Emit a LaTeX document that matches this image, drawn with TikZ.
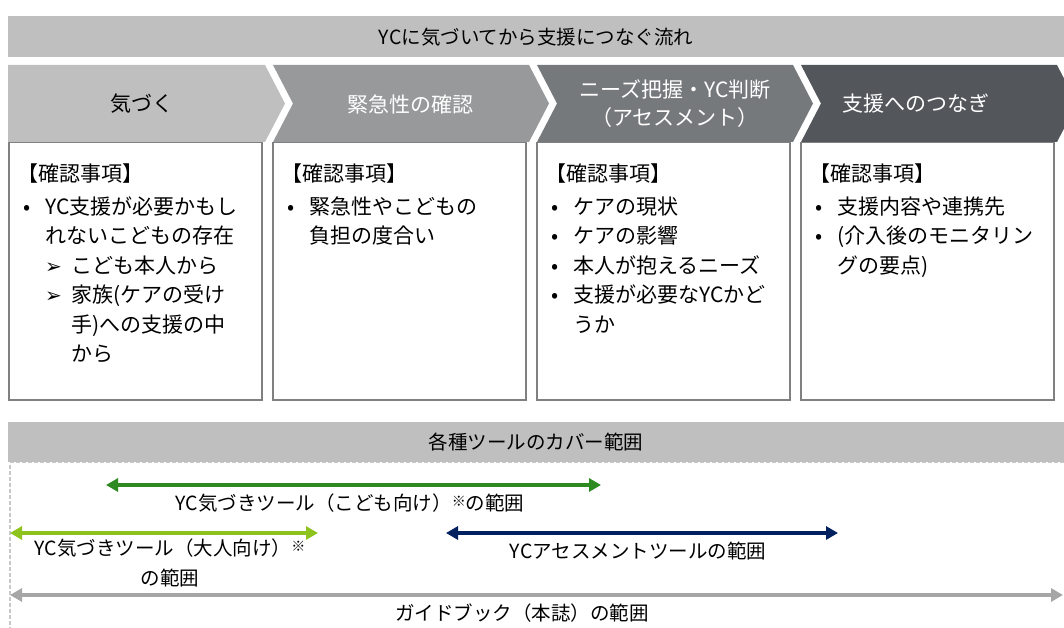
\documentclass[tikz,border=0pt]{standalone}
\usepackage{fontspec}
\setmainfont{Noto Sans CJK JP}
\newfontfamily\symfont{DejaVu Sans}
\definecolor{bargray}{HTML}{BFBFBF}
\definecolor{stepone}{HTML}{BFBFBF}
\definecolor{steptwo}{HTML}{98999B}
\definecolor{stepthree}{HTML}{76797C}
\definecolor{stepfour}{HTML}{53565A}
\definecolor{framegray}{HTML}{808080}
\definecolor{kidgreen}{HTML}{2E8B22}
\definecolor{adultgreen}{HTML}{8DC21F}
\definecolor{assessnavy}{HTML}{002060}
\definecolor{guidegray}{HTML}{A6A6A6}
\definecolor{dashgray}{HTML}{C8C8C8}
\usetikzlibrary{arrows.meta, positioning}

% list helpers
\newcommand{\itm}[1]{\makebox[28pt][l]{\hspace{6pt}\textbullet}#1}
\newcommand{\cont}[1]{\hspace*{28pt}#1}
\newcommand{\subitm}[1]{\hspace*{28pt}\makebox[26pt][l]{\symfont\fontsize{20}{20}\selectfont ➢}#1}
\newcommand{\subcont}[1]{\hspace*{54pt}#1}
\newcommand{\kome}{\raisebox{4pt}{\fontsize{14}{14}\selectfont ※}}

\begin{document}
\begin{tikzpicture}[x=1pt, y=-1pt,
  bar/.style={fill=bargray, inner sep=0pt, anchor=north west, font=\fontsize{19.5}{19.5}\selectfont},
  infobox/.style={draw=framegray, line width=1.5pt, fill=white, inner sep=0pt, anchor=north west,
    minimum width=253pt, minimum height=257pt},
  itemtext/.style={inner sep=0pt, anchor=north west, align=left, font=\fontsize{21}{29.5}\selectfont},
  steptext/.style={font=\fontsize{21}{28}\selectfont, align=center},
  spanarrow/.style={line width=3.6pt, {Triangle[length=12pt,width=13pt]}-{Triangle[length=12pt,width=13pt]}},
  lbl/.style={font=\fontsize{19.5}{30}\selectfont, align=center}]
  \useasboundingbox (0,0) rectangle (1064,628);

  % Flow title
  \node[bar, minimum width=1056pt, minimum height=41pt] (flowbar) at (8,16) {YCに気づいてから支援につなぐ流れ};

  % Steps
  \fill[stepone] (8,65) -- (265,65) -- (285,103.5) -- (265,142) -- (8,142) -- cycle;
  \fill[steptwo] (273,65) -- (529,65) -- (549,103.5) -- (529,142) -- (273,142) -- (293,103.5) -- cycle;
  \fill[stepthree] (537,65) -- (793,65) -- (813,103.5) -- (793,142) -- (537,142) -- (557,103.5) -- cycle;
  \fill[stepfour] (801,65) -- (1057,65) -- (1077,103.5) -- (1057,142) -- (801,142) -- (821,103.5) -- cycle;

  \node[steptext] (ch1) at (142,104) {気づく};
  \node[steptext, text=white] (ch2) at (410,104) {緊急性の確認};
  \node[steptext, text=white] (ch3) at (675,104) {ニーズ把握・YC判断\\（アセスメント）};
  \node[steptext, text=white] (ch4) at (916,104) {支援へのつなぎ};

  % Check boxes
  \node[infobox] (box1) at (8,142) {};
  \node[infobox] (box2) at (272,142) {};
  \node[infobox] (box3) at (536,142) {};
  \node[infobox] (box4) at (800,142) {};

  \node[itemtext] (list1) at (17,164) {【確認事項】\\[3pt]
    \itm{YC支援が必要かもし}\\
    \cont{れないこどもの存在}\\
    \subitm{こども本人から}\\
    \subitm{家族(ケアの受け}\\
    \subcont{手)への支援の中}\\
    \subcont{から}};
  \node[itemtext] (list2) at (281,164) {【確認事項】\\[3pt]
    \itm{緊急性やこどもの}\\
    \cont{負担の度合い}};
  \node[itemtext] (list3) at (545,164) {【確認事項】\\[3pt]
    \itm{ケアの現状}\\
    \itm{ケアの影響}\\
    \itm{本人が抱えるニーズ}\\
    \itm{支援が必要なYCかど}\\
    \cont{うか}};
  \node[itemtext] (list4) at (809,164) {【確認事項】\\[3pt]
    \itm{支援内容や連携先}\\
    \itm{(介入後のモニタリン}\\
    \cont{グの要点)}};

  % Tool coverage
  \draw[dashgray, line width=1.2pt, dash pattern=on 4pt off 2pt] (1064,462.5) -- (10,462.5) -- (10,628);
  \node[bar, minimum width=1056pt, minimum height=40pt] (toolbar) at (8,422) {各種ツールのカバー範囲};

  \coordinate (kidL) at (106,485);
  \coordinate (kidR) at (601,485);
  \coordinate (adultL) at (10,533);
  \coordinate (adultR) at (318,533);
  \coordinate (assessL) at (446,533);
  \coordinate (assessR) at (838,533);
  \coordinate (guideL) at (10,595);
  \coordinate (guideR) at (1063,595);

  \draw[spanarrow, kidgreen] (kidL) -- (kidR);
  \draw[spanarrow, adultgreen] (adultL) -- (adultR);
  \draw[spanarrow, assessnavy] (assessL) -- (assessR);
  \draw[spanarrow, guidegray] (guideL) -- (guideR);

  \node[lbl] (kidtxt) at (350,503) {YC気づきツール（こども向け）\kome の範囲};
  \node[lbl] (adulttxt) at (170,563) {YC気づきツール（大人向け）\kome\\の範囲};
  \node[lbl] (assesstxt) at (638,551) {YCアセスメントツールの範囲};
  \node[lbl] (guidetxt) at (522,613) {ガイドブック（本誌）の範囲};
\end{tikzpicture}
\end{document}
